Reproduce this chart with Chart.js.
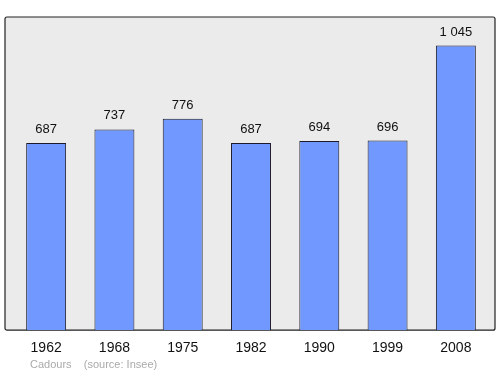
<html>
<body style="margin:0">
<div style="width:500px;height:374px;">
    <canvas id="pop_chart" width="500" height="374"></canvas>
</div>

<script src="https://cdn.jsdelivr.net/npm/chart.js"></script>

<script>
    var years = ['1962', '1968', '1975', '1982', '1990', '1999', '2008'];
    var population = [687, 737, 776, 687, 694, 696, 1045];
    var caption = 'Cadours    (source: Insee)';

    function fmt(v) {
        return String(v).replace(/\B(?=(\d{3})+(?!\d))/g, ' ');
    }

    // grey box with border behind the bars
    var boxPlugin = {
        id: 'box',
        beforeDatasetsDraw: function (chart) {
            var ctx = chart.ctx, a = chart.chartArea;
            var x = a.left - 7, y = a.top, w = a.right - a.left + 12, h = a.bottom - a.top;
            ctx.save();
            ctx.beginPath();
            ctx.roundRect(x, y, w, h, 2);
            ctx.fillStyle = '#ebebeb';
            ctx.fill();
            ctx.lineWidth = 1.2;
            ctx.strokeStyle = '#222';
            ctx.stroke();
            ctx.restore();
        },
        afterDraw: function (chart) {
            var ctx = chart.ctx, a = chart.chartArea;
            var meta = chart.getDatasetMeta(0);
            ctx.save();
            ctx.fillStyle = '#111';
            ctx.font = '13px "Liberation Sans", Arial, sans-serif';
            ctx.textAlign = 'center';
            ctx.textBaseline = 'bottom';
            meta.data.forEach(function (bar, i) {
                ctx.fillText(fmt(population[i]), bar.x, bar.y - 7);
            });
            ctx.fillStyle = '#aaa';
            ctx.font = '11px "Liberation Sans", Arial, sans-serif';
            ctx.textAlign = 'left';
            ctx.textBaseline = 'middle';
            ctx.fillText(caption, 30, 365);
            ctx.restore();
        }
    };

    var popChart = new Chart(document.getElementById('pop_chart'), {
        type: 'bar',
        data: {
            labels: years,
            datasets: [{
                data: population,
                backgroundColor: '#7098ff',
                borderColor: '#1a1a2a',
                borderWidth: 1,
                categoryPercentage: 0.585,
                barPercentage: 1
            }]
        },
        options: {
            responsive: false,
            animation: false,
            layout: { padding: { left: 12, right: 10, top: 17, bottom: 15 } },
            plugins: { legend: { display: false }, tooltip: { enabled: false } },
            scales: {
                x: {
                    grid: { display: false },
                    border: { display: false },
                    ticks: {
                        color: '#111',
                        font: { size: 14, family: '"Liberation Sans", Arial, sans-serif' },
                        padding: 2
                    }
                },
                y: { display: false, min: 0, max: 1149.5 }
            }
        },
        plugins: [boxPlugin]
    });
</script>
</body>
</html>
